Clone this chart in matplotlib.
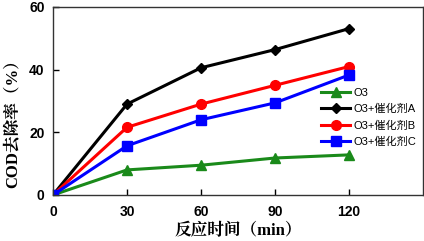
import matplotlib.pyplot as plt

plt.rcParams['font.family'] = ['Liberation Sans', 'Noto Sans CJK SC']

time_min = [0, 30, 60, 90, 120]
o3 = [0, 8.0, 9.5, 11.8, 12.8]
cat_a = [0, 29.0, 40.6, 46.4, 53.1]
cat_b = [0, 21.6, 29.0, 35.0, 41.0]
cat_c = [0, 15.7, 24.0, 29.4, 38.3]

series = [
    ("O3", o3, "#1a8a1a", "^"),
    ("O3+催化剂A", cat_a, "black", "D"),
    ("O3+催化剂B", cat_b, "red", "o"),
    ("O3+催化剂C", cat_c, "blue", "s"),
]

fig = plt.figure(figsize=(4.24, 2.41), dpi=100)
ax = fig.add_axes([0.125, 0.191, 0.873, 0.780])

for label, vals, color, marker in series:
    ms = 5 if marker == "D" else 7
    ax.plot(time_min, vals, color=color, marker=marker, markersize=ms, lw=2.2, label=label)

ax.set_xlim(0, 150)
ax.set_ylim(0, 60)
ax.set_xticks([0, 30, 60, 90, 120])
ax.set_yticks([0, 20, 40, 60])
ax.tick_params(direction='in', length=4, width=1, labelsize=10)
for t in ax.get_xticklabels() + ax.get_yticklabels():
    t.set_fontweight('bold')
ax.tick_params(axis='x', pad=7)
ax.tick_params(axis='y', pad=6)
for s in ax.spines.values():
    s.set_linewidth(1)
    s.set_color('#333333')

label_fonts = ['Liberation Serif', 'Noto Serif CJK SC', 'Noto Sans CJK SC']
ax.set_xlabel("反应时间（min）", fontsize=12, family=label_fonts, fontweight='bold', labelpad=3)
ax.set_ylabel("COD去除率（%）", fontsize=12, family=label_fonts, fontweight='bold')
ax.yaxis.set_label_coords(-0.085, 0.40)

leg = ax.legend(loc='lower right', bbox_to_anchor=(1.0, 0.22), frameon=False, fontsize=8,
                handlelength=2.6, labelspacing=0.55, handletextpad=0.3, borderaxespad=0.2)

fig.savefig("out.png", dpi=100)
